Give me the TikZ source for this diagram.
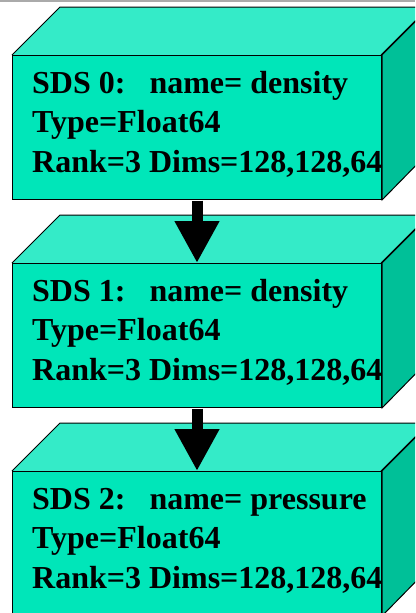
\documentclass[tikz,border=0pt]{standalone}
\usepackage{fontspec}
\setmainfont{Liberation Serif}
\usetikzlibrary{arrows.meta,calc}
\definecolor{frontc}{RGB}{0,230,185}
\definecolor{topc}{RGB}{52,235,200}
\definecolor{sidec}{RGB}{0,192,152}
\definecolor{rulec}{RGB}{170,170,170}
\tikzset{
  face/.style={draw=black, line width=1pt, line join=miter},
  frontbox/.style={face, fill=frontc, rectangle, minimum width=369pt, minimum height=144pt, inner sep=0pt, anchor=north west},
  sdstext/.style={anchor=base west, align=left, inner sep=0pt, font=\bfseries\fontsize{32}{39.5}\selectfont},
  flowarrow/.style={line width=11pt, -{Triangle[width=42pt,length=42pt]}, shorten <=0.5pt}
}
\newcommand{\sdsblock}[3]{%
  % top face, front face with its text, then the side face over the text
  \fill[topc] (12,#1) -- (60,#1-48) -- (429,#1-48) -- (381,#1) -- cycle;
  \draw[face] (12,#1) -- (60,#1-48) -- (429,#1-48) -- (381,#1);
  \node[frontbox] (#2) at (12,#1) {};
  % the base anchor of a multi-line node sits on its last line
  \node[sdstext] (#2t) at ($(#2.north west)+(20,117)$) {#3};
  \filldraw[face, fill=sidec] (#2.north east) -- ++(48,-48) -- ++(0,144) -- (#2.south east) -- cycle;
}
\begin{document}
\begin{tikzpicture}[x=1pt,y=-1pt]
\useasboundingbox (0,0) rectangle (415,613);
\clip (0,0) rectangle (415,613);
\fill[rulec] (0,0) rectangle (415,1.5);
\sdsblock{55}{b0}{SDS 0:\ \ \ name= density\\Type=Float64\\Rank=3 Dims=128,128,64}
\sdsblock{263}{b1}{SDS 1:\ \ \ name= density\\Type=Float64\\Rank=3 Dims=128,128,64}
\sdsblock{471}{b2}{SDS 2:\ \ \ name= pressure\\Type=Float64\\Rank=3 Dims=128,128,64}
\draw[flowarrow] (b0.south) -- (b1.north);
\draw[flowarrow] (b1.south) -- (b2.north);
\end{tikzpicture}
\end{document}
